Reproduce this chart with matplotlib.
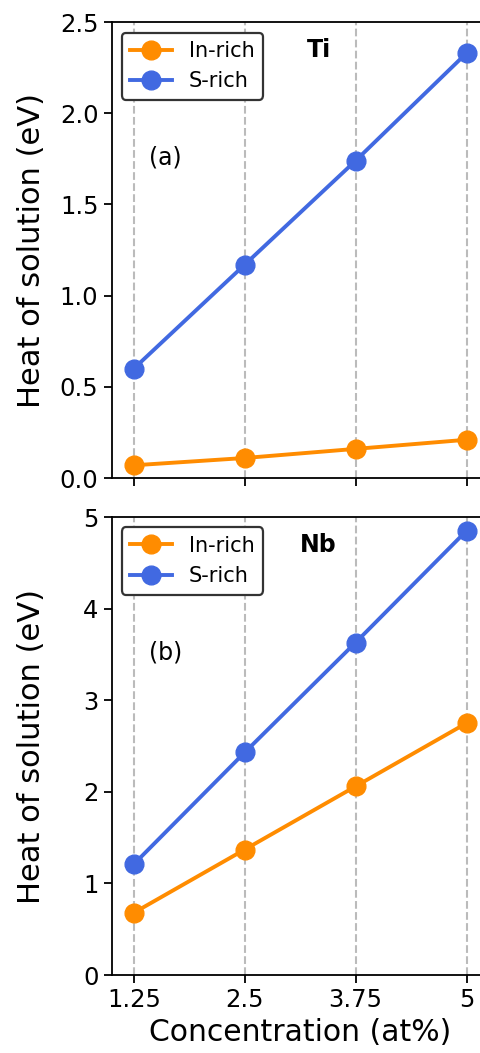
import matplotlib
matplotlib.use("Agg")
import matplotlib.pyplot as plt

conc = [1.25, 2.5, 3.75, 5]
conc_labels = ["1.25", "2.5", "3.75", "5"]

ti_in_rich = [0.07, 0.11, 0.16, 0.21]
ti_s_rich = [0.60, 1.17, 1.74, 2.33]
nb_in_rich = [0.68, 1.37, 2.06, 2.75]
nb_s_rich = [1.21, 2.43, 3.63, 4.85]

orange = "darkorange"
blue = "royalblue"

fig = plt.figure(figsize=(4.81, 10.53), dpi=100)
ax1 = fig.add_axes([0.232, 0.546, 0.784, 0.433])
ax2 = fig.add_axes([0.232, 0.074, 0.784, 0.435])

panels = [
    (ax1, ti_in_rich, ti_s_rich, "Ti", "(a)", (0, 2.5), [0, 0.5, 1.0, 1.5, 2.0, 2.5]),
    (ax2, nb_in_rich, nb_s_rich, "Nb", "(b)", (0, 5), [0, 1, 2, 3, 4, 5]),
]

for ax, y_in, y_s, name, tag, ylim, yticks in panels:
    ax.plot(conc, y_in, "-o", color=orange, lw=2.8, ms=13.5, label="In-rich")
    ax.plot(conc, y_s, "-o", color=blue, lw=2.8, ms=13.5, label="S-rich")
    ax.set_xlim(1.0, 5.25)
    ax.set_ylim(*ylim)
    ax.set_yticks(yticks)
    ax.set_xticks(conc)
    ax.xaxis.grid(True, ls="--", color="#bbbbbb", lw=1.5)
    ax.set_axisbelow(True)
    ax.tick_params(labelsize=17.5, length=6, width=1.3)
    for s in ax.spines.values():
        s.set_linewidth(1.3)
    ax.set_ylabel("Heat of solution (eV)", fontsize=22)
    leg = ax.legend(loc="upper left", fontsize=15, framealpha=1, fancybox=True)
    leg.get_frame().set_edgecolor("#333333")
    leg.get_frame().set_linewidth(1.6)
    ax.text(0.549, 0.939, name, transform=ax.transAxes, fontsize=17,
            fontweight="bold", ha="center", va="center")
    ax.text(0.143, 0.704, tag, transform=ax.transAxes, fontsize=17,
            ha="center", va="center")

ax1.set_xticklabels([])
ax2.set_xticklabels(conc_labels)
ax2.set_xlabel("Concentration (at%)", fontsize=21.5)
ax1.yaxis.set_label_coords(-0.175, 0.5)
ax2.yaxis.set_label_coords(-0.175, 0.5)

fig.savefig("out.png", dpi=100)
